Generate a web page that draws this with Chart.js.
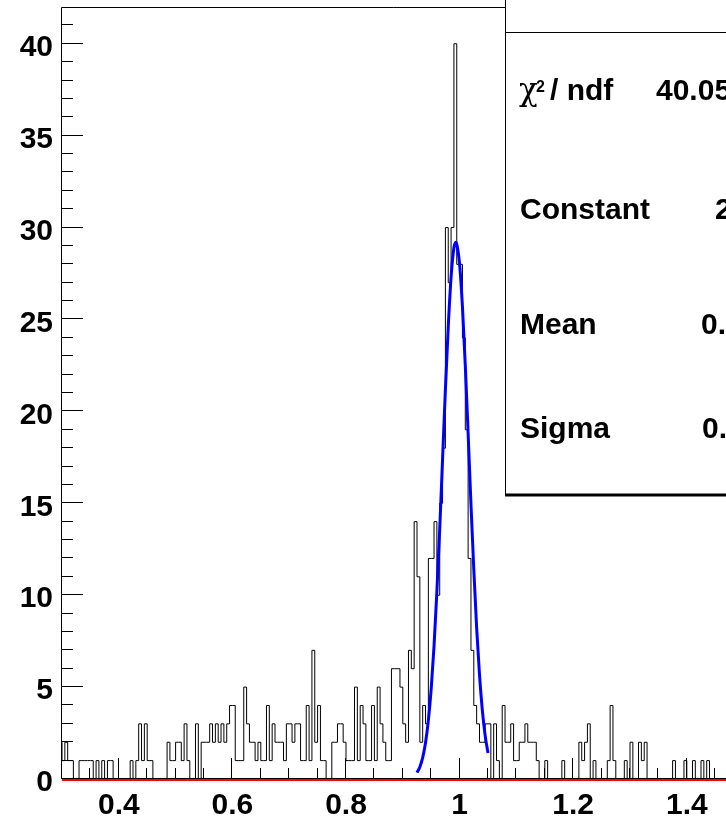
<!DOCTYPE html>
<html>
<head>
<meta charset="utf-8">
<title>Histograma con ajuste gaussiano</title>
<script src="https://cdn.jsdelivr.net/npm/chart.js@4.4.1/dist/chart.umd.min.js"></script>
<style>
  html, body { margin: 0; padding: 0; background: #fff; overflow: hidden; }
  canvas { display: block; }
</style>
</head>
<body>
<canvas id="chartHisto" width="726" height="818"></canvas>
<script>
// Datos del histograma (bins de 0.005 desde 0.3)
const binStart = 0.3;
const binWidth = 0.005;
const counts = [
  2, 1, 2, 1, 1, 0, 0, 1, 1, 1,
  1, 1, 0, 1, 0, 1, 0, 1, 1, 0,
  0, 0, 0, 0, 0, 1, 0, 1, 3, 1,
  3, 1, 1, 0, 0, 0, 0, 0, 2, 1,
  1, 2, 2, 1, 3, 1, 0, 0, 3, 0,
  2, 2, 2, 3, 2, 3, 2, 3, 2, 3,
  4, 4, 1, 1, 1, 5, 3, 2, 2, 1,
  2, 1, 1, 4, 1, 3, 2, 2, 2, 1,
  3, 3, 2, 3, 3, 1, 1, 4, 1, 7,
  2, 4, 1, 1, 0, 0, 2, 2, 3, 3,
  2, 1, 1, 1, 5, 1, 4, 3, 1, 1,
  4, 1, 5, 3, 2, 1, 1, 6, 6, 6,
  5, 3, 2, 7, 6, 14, 11, 2, 4, 3,
  12, 12, 14, 10, 15, 18, 30, 27, 30, 40,
  28, 28, 24, 19, 12, 7, 4, 3, 2, 2,
  3, 3, 0, 3, 1, 0, 4, 2, 2, 3,
  1, 1, 2, 2, 3, 2, 2, 2, 1, 0,
  0, 1, 0, 0, 0, 0, 0, 1, 0, 0,
  0, 0, 0, 2, 1, 2, 3, 0, 1, 0,
  0, 0, 0, 1, 4, 1, 0, 0, 0, 1,
  0, 2, 0, 0, 2, 1, 2, 0, 0, 0,
  0, 0, 0, 0, 0, 0, 1, 0, 0, 0,
  1, 0, 0, 1, 0, 0, 1, 0, 1, 0,
  0, 0, 0, 0
];

// Curva de ajuste
const fitX = [0.925, 0.93, 0.935, 0.94, 0.945, 0.95, 0.955, 0.96, 0.965, 0.97, 0.975, 0.98, 0.985, 0.99, 0.9934,
  0.995, 1.0, 1.005, 1.01, 1.015, 1.02, 1.025, 1.03, 1.035, 1.04, 1.045, 1.05];
const fitY = [0.35, 0.65, 1.16, 1.97, 3.19, 4.92, 7.24, 10.2, 13.6, 17.4, 21.2, 24.6, 27.3, 28.9, 29.2,
  29.1, 28.0, 25.7, 22.5, 18.8, 14.95, 11.4, 8.23, 5.69, 3.75, 2.36, 1.41];

// Línea roja en cero
const zeroX = [0.3, 1.7];
const zeroY = [0, 0];

// Ejes
const xRange = [0.3, 1.469];
const yRange = [0, 42];
const xTickValues = [0.4, 0.6, 0.8, 1.0, 1.2, 1.4];
const yTickValues = [0, 5, 10, 15, 20, 25, 30, 35, 40];

// Caja de estadísticas
const statLabels = ['χ2 / ndf', 'Constant', 'Mean', 'Sigma'];
const statValues = ['40.05 / 37', '29.27 ± 1.31', '0.9933 ± 0.0009', '0.0230 ± 0.0008'];

(function() {
  'use strict';

  const FONT = '"Liberation Sans", Arial, Helvetica, sans-serif';

  // Preparar puntos
  const histPoints = counts.map((c, i) => ({ x: binStart + i * binWidth, y: c }));
  histPoints.push({ x: binStart + counts.length * binWidth, y: counts[counts.length - 1] });
  const fitPoints = fitX.map((x, i) => ({ x: x, y: fitY[i] }));
  const zeroPoints = zeroX.map((x, i) => ({ x: x, y: zeroY[i] }));

  // Marco, línea roja y marcas de los ejes (estilo ROOT, hacia dentro)
  const frameTicks = {
    id: 'frameTicks',
    afterDatasetsDraw(chart) {
      const { ctx, chartArea: a, scales: { x, y } } = chart;
      const y0 = Math.round(y.getPixelForValue(0));

      // Línea roja en cero, justo debajo del eje
      ctx.save();
      ctx.strokeStyle = '#ff0000';
      ctx.lineWidth = 2;
      ctx.beginPath();
      ctx.moveTo(Math.max(a.left, x.getPixelForValue(zeroX[0])), y.getPixelForValue(zeroY[0]) + 1);
      ctx.lineTo(x.getPixelForValue(zeroX[1]), y.getPixelForValue(zeroY[1]) + 1);
      ctx.stroke();
      ctx.restore();

      ctx.save();
      ctx.strokeStyle = '#000';
      ctx.lineWidth = 1;
      ctx.beginPath();
      ctx.moveTo(a.left - 0.5, y0);
      ctx.lineTo(a.left - 0.5, a.top + 0.5);
      ctx.lineTo(a.right, a.top + 0.5);
      ctx.moveTo(a.left - 1, y0 - 0.5);
      ctx.lineTo(a.right, y0 - 0.5);

      for (let v = 0; v <= 41; v++) {
        const py = Math.round(y.getPixelForValue(v)) - 0.5;
        const len = v % 5 === 0 ? 21 : 11;
        ctx.moveTo(a.left, py);
        ctx.lineTo(a.left + len, py);
      }
      for (let i = 7; i * 0.05 < xRange[1]; i++) {
        const px = Math.round(x.getPixelForValue(i * 0.05)) - 0.5;
        const len = i % 4 === 0 ? 21 : 11;
        ctx.moveTo(px, y0);
        ctx.lineTo(px, y0 - len);
      }
      ctx.stroke();
      ctx.restore();
    }
  };

  // Caja de estadísticas del ajuste
  const statsBox = {
    id: 'statsBox',
    afterDraw(chart) {
      const ctx = chart.ctx;
      const left = 505, bottom = 495;
      ctx.save();
      ctx.fillStyle = '#fff';
      ctx.fillRect(left, -10, 400, bottom + 10);
      ctx.strokeStyle = '#000';
      ctx.lineWidth = 1;
      ctx.beginPath();
      ctx.moveTo(left + 0.5, -10);
      ctx.lineTo(left + 0.5, bottom);
      ctx.moveTo(left, 32.5);
      ctx.lineTo(800, 32.5);
      ctx.stroke();
      ctx.lineWidth = 3;
      ctx.beginPath();
      ctx.moveTo(left, bottom);
      ctx.lineTo(800, bottom);
      ctx.stroke();

      ctx.fillStyle = '#000';
      ctx.textBaseline = 'alphabetic';
      ctx.textAlign = 'left';
      const baselines = [100, 219, 334, 438];
      const valueX = [656, 715, 701, 702];

      // chi^2 / ndf con superíndice
      ctx.font = '31px "DejaVu Serif", "Liberation Serif", serif';
      ctx.fillText(statLabels[0].charAt(0), 519, baselines[0]);
      ctx.font = 'bold 16px ' + FONT;
      ctx.fillText(statLabels[0].charAt(1), 536, baselines[0] - 8);
      ctx.font = 'bold 30px ' + FONT;
      ctx.fillText(statLabels[0].slice(2).trim(), 550, baselines[0]);

      for (let i = 1; i < statLabels.length; i++) {
        ctx.fillText(statLabels[i], 520, baselines[i]);
      }
      statValues.forEach((v, i) => ctx.fillText(v, valueX[i], baselines[i]));
      ctx.restore();
    }
  };

  const canvas = document.getElementById('chartHisto');
  new Chart(canvas.getContext('2d'), {
    type: 'line',
    data: {
      datasets: [
        {
          label: 'fit',
          data: fitPoints,
          borderColor: '#0000ff',
          borderWidth: 3,
          pointRadius: 0,
          cubicInterpolationMode: 'monotone',
          order: 0
        },
        {
          label: 'zero',
          data: zeroPoints,
          borderColor: '#ff0000',
          borderWidth: 2,
          pointRadius: 0,
          stepped: 'after',
          order: 1
        },
        {
          label: 'histo',
          data: histPoints,
          borderColor: '#000',
          borderWidth: 1,
          pointRadius: 0,
          stepped: 'after',
          order: 2
        }
      ]
    },
    options: {
      responsive: false,
      animation: false,
      devicePixelRatio: 1,
      layout: { padding: { top: 7, right: 0, bottom: 0, left: 0 } },
      plugins: {
        legend: { display: false },
        tooltip: { enabled: false }
      },
      scales: {
        x: {
          type: 'linear',
          min: xRange[0],
          max: xRange[1],
          grid: { display: false, drawTicks: false },
          border: { display: false },
          afterBuildTicks: s => { s.ticks = xTickValues.map(v => ({ value: v })); },
          afterFit: s => { s.height = 39; s.paddingLeft = 0; s.paddingRight = 0; },
          ticks: {
            color: '#000',
            padding: 9,
            maxRotation: 0,
            autoSkip: false,
            font: { family: FONT, size: 30, weight: 'bold' },
            callback: v => String(+v.toFixed(2))
          }
        },
        y: {
          type: 'linear',
          min: yRange[0],
          max: yRange[1],
          grid: { display: false, drawTicks: false },
          border: { display: false },
          afterBuildTicks: s => { s.ticks = yTickValues.map(v => ({ value: v })); },
          afterFit: s => { s.width = 62; s.paddingTop = 0; s.paddingBottom = 0; },
          ticks: {
            color: '#000',
            padding: 9,
            labelOffset: 4,
            autoSkip: false,
            font: { family: FONT, size: 30, weight: 'bold' },
            callback: v => String(v)
          }
        }
      }
    },
    plugins: [frameTicks, statsBox]
  });
})();
</script>
</body>
</html>
